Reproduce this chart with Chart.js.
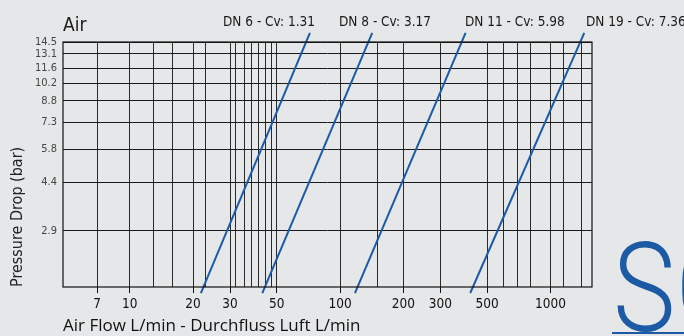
<!DOCTYPE html>
<html>
<head>
<meta charset="utf-8">
<script src="https://cdn.jsdelivr.net/npm/chart.js@4.4.0/dist/chart.umd.min.js"></script>
<style>
  html, body { margin: 0; padding: 0; background: #e6e7e9; }
  #wrap { width: 684px; height: 336px; position: relative; }
</style>
</head>
<body>
<div id="wrap"><canvas id="airChart" width="684" height="336"></canvas></div>
<script>
// values
const flowTicks = [7, 10, 20, 30, 50, 100, 200, 300, 500, 1000];
const flowGrid = [7, 10, 13, 16, 20, 23, 30, 32, 35, 38, 41, 44, 47, 50, 100, 150, 200, 300, 500, 600, 700, 800, 1000, 1150, 1400];
const pressureTicks = [2.9, 4.4, 5.8, 7.3, 8.8, 10.2, 11.6, 13.1, 14.5];
const pressureEnds = [1.71, 15.66];   // the lines run a bit past the plot
const seriesNames = ['DN 6 - Cv: 1.31', 'DN 8 - Cv: 3.17', 'DN 11 - Cv: 5.98', 'DN 19 - Cv: 7.36'];
const dn6Flow = [21.8, 71.9];
const dn8Flow = [42.7, 142.2];
const dn11Flow = [117.7, 395];
const dn19Flow = [415.8, 1448];

const NARROW = '"Liberation Sans Narrow", "DejaVu Sans Condensed", sans-serif';
const BLUE = '#1c5aa6';

function makeSeries(name, flows) {
    return {
        label: name,
        data: flows.map((f, i) => ({ x: f, y: pressureEnds[i] })),
        borderColor: BLUE,
        borderWidth: 2,
        pointRadius: 0,
        fill: false,
        clip: { left: 0, top: 10, right: 0, bottom: 7 }
    };
}

// Beschriftungen oben, Rahmen und Logo
const extras = {
    id: 'extras',
    afterDraw(chart) {
        const c = chart.ctx;
        const a = chart.chartArea;
        c.save();
        c.strokeStyle = '#111';
        c.lineWidth = 1.2;
        c.strokeRect(a.left, a.top, a.right - a.left, a.bottom - a.top);

        c.fillStyle = '#1a1a1a';
        c.textBaseline = 'alphabetic';
        c.textAlign = 'left';
        c.font = '19px ' + NARROW;
        c.fillText('Air', a.left, 31);

        c.font = '13.5px ' + NARROW;
        const labelX = [223, 339, 465, 586];
        seriesNames.forEach((n, i) => c.fillText(n, labelX[i], 26));

        // logo
        c.fillStyle = BLUE;
        c.save();
        c.translate(613, 331);
        c.scale(0.85, 1);
        c.font = '300 124px Roboto, "Open Sans", sans-serif';
        c.fillText('SC', 0, 0);
        c.restore();
        c.fillRect(612, 332, 72, 2);
        c.restore();
    }
};

const ctx = document.getElementById('airChart');

new Chart(ctx, {
    type: 'line',
    data: {
        datasets: [
            makeSeries(seriesNames[0], dn6Flow),
            makeSeries(seriesNames[1], dn8Flow),
            makeSeries(seriesNames[2], dn11Flow),
            makeSeries(seriesNames[3], dn19Flow)
        ]
    },
    options: {
        responsive: false,
        animation: false,
        layout: { padding: { top: 42, right: 92, bottom: 0, left: 0 } },
        plugins: {
            legend: { display: false },
            tooltip: { enabled: false }
        },
        scales: {
            x: {
                type: 'logarithmic',
                min: 4.82,
                max: 1576,
                afterBuildTicks: s => { s.ticks = flowGrid.map(v => ({ value: v })); },
                afterFit: s => { s.height = 49; },
                border: { display: false },
                grid: {
                    color: '#2a2a2a',
                    lineWidth: 1,
                    tickLength: 6,
                    tickColor: c => flowTicks.includes(c.tick.value) ? '#111' : 'rgba(0,0,0,0)'
                },
                ticks: {
                    autoSkip: false,
                    maxRotation: 0,
                    padding: 3,
                    color: '#111',
                    font: { family: NARROW, size: 13.5 },
                    callback: v => flowTicks.includes(v) ? String(v) : ''
                },
                title: {
                    display: true,
                    text: 'Air Flow L/min - Durchfluss Luft L/min',
                    align: 'start',
                    color: '#111',
                    font: { family: '"Open Sans", sans-serif', size: 17 },
                    padding: { top: 0, bottom: 0 }
                }
            },
            y: {
                type: 'logarithmic',
                min: 1.8,
                max: 14.5,
                afterBuildTicks: s => { s.ticks = pressureTicks.map(v => ({ value: v })); },
                afterFit: s => { s.width = 63; },
                border: { display: false },
                grid: { color: '#1a1a1a', lineWidth: 1, drawTicks: false },
                ticks: {
                    padding: 6,
                    color: '#444',
                    font: { family: NARROW, size: 11 },
                    callback: v => v.toFixed(1)
                },
                title: {
                    display: true,
                    text: 'Pressure Drop (bar)',
                    align: 'start',
                    color: '#222',
                    font: { family: NARROW, size: 16 },
                    padding: { top: 8, bottom: 0 }
                }
            }
        }
    },
    plugins: [extras]
});
</script>
</body>
</html>
